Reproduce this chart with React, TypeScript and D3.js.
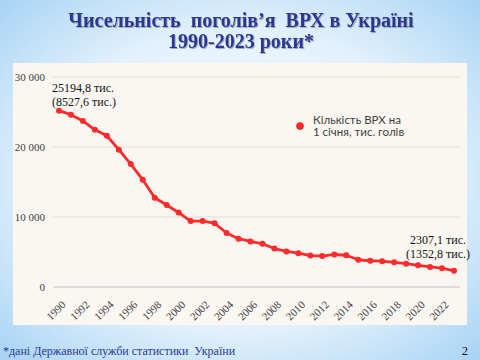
import React, { useEffect, useRef } from 'react';
import * as d3 from 'd3';

const years = d3.range(1990, 2024);
const cattle = [
  25194.8, 24623.4, 23727.7, 22457.1, 21607.4, 19624.2, 17557.3, 15313.2, 12759.4, 11721.7,
  10626.5, 9423.7, 9421.1, 9108.4, 7712.1, 6902.7, 6514.1, 6175.3, 5490.9, 5079.0,
  4826.7, 4494.4, 4425.9, 4646.0, 4534.0, 3884.0, 3750.0, 3682.0, 3530.9, 3332.9,
  3092.0, 2874.5, 2695.5, 2307.1,
];
const yTicks = [0, 10000, 20000, 30000];
const xTickYears = d3.range(1990, 2024, 2);
const titleLines = ['Чисельність  поголів’я  ВРХ в Україні', '1990-2023 роки*'];
const legendLines = ['Кількість ВРХ на', '1 січня, тис. голів'];
const firstNote = ['25194,8 тис.', '(8527,6 тис.)'];
const lastNote = ['2307,1 тис.', '(1352,8 тис.)'];
const footnote = '*дані Державної служби статистики  України';
const pageNo = '2';

const W = 480;
const H = 360;
const panel = { x: 13, y: 63, w: 454, h: 262 };
const plot = { left: 53, right: 460, top: 77, bottom: 287 };
const serif = '"Times New Roman", "Liberation Serif", serif';

const App = () => {
  const ref = useRef<SVGSVGElement>(null);

  useEffect(() => {
    const svg = d3.select(ref.current);
    svg.selectAll('*').remove();

    const defs = svg.append('defs');
    const grad = defs.append('radialGradient')
      .attr('id', 'bg')
      .attr('cx', '50%').attr('cy', '50%').attr('r', '75%');
    grad.append('stop').attr('offset', '0%').attr('stop-color', '#ffffff');
    grad.append('stop').attr('offset', '55%').attr('stop-color', '#e3f1fc');
    grad.append('stop').attr('offset', '100%').attr('stop-color', '#9fcff3');

    const shadow = defs.append('filter').attr('id', 'tshadow');
    shadow.append('feDropShadow')
      .attr('dx', 1).attr('dy', 1).attr('stdDeviation', 0.6)
      .attr('flood-color', '#7a7a9a').attr('flood-opacity', 0.6);

    svg.append('rect').attr('width', W).attr('height', H).attr('fill', 'url(#bg)');

    // title
    const title = svg.append('text')
      .attr('text-anchor', 'middle')
      .attr('font-family', serif)
      .attr('font-weight', 'bold')
      .attr('font-size', 20)
      .attr('fill', '#2b3990')
      .style('white-space', 'pre')
      .attr('filter', 'url(#tshadow)');
    titleLines.forEach((t, i) => {
      title.append('tspan').attr('x', 241).attr('y', 27 + i * 21).text(t);
    });

    svg.append('rect')
      .attr('x', panel.x).attr('y', panel.y)
      .attr('width', panel.w).attr('height', panel.h)
      .attr('fill', '#faf7f2');

    const x = d3.scaleLinear()
      .domain([1989.5, 2023.5])
      .range([53, 460]);
    const y = d3.scaleLinear()
      .domain([0, 30000])
      .range([plot.bottom, plot.top]);

    const fmt = (v: number) => d3.format(',')(v).replace(/,/g, ' ');

    const gy = svg.append('g');
    gy.selectAll('line')
      .data(yTicks)
      .enter()
      .append('line')
      .attr('x1', plot.left).attr('x2', plot.right)
      .attr('y1', d => y(d)).attr('y2', d => y(d))
      .attr('stroke', d => (d === 0 ? '#c4c4c4' : '#e0dbd4'))
      .attr('stroke-width', 1);
    gy.selectAll('text')
      .data(yTicks)
      .enter()
      .append('text')
      .attr('x', 45)
      .attr('y', d => y(d))
      .attr('dy', '0.32em')
      .attr('text-anchor', 'end')
      .attr('font-family', serif)
      .attr('font-size', 11)
      .attr('fill', '#404040')
      .text(d => fmt(d));

    svg.append('g')
      .selectAll('text')
      .data(xTickYears)
      .enter()
      .append('text')
      .attr('transform', d => `translate(${x(d) + 2},${plot.bottom + 13}) rotate(-45)`)
      .attr('text-anchor', 'end')
      .attr('dy', '0.7em')
      .attr('font-family', serif)
      .attr('font-size', 11)
      .attr('fill', '#404040')
      .text(d => d);

    const line = d3.line<number>()
      .x((d, i) => x(years[i]))
      .y(d => y(d));

    svg.append('path')
      .datum(cattle)
      .attr('d', line)
      .attr('fill', 'none')
      .attr('stroke', '#ff2a2a')
      .attr('stroke-width', 2.8)
      .attr('stroke-linejoin', 'round');

    svg.append('g')
      .selectAll('circle')
      .data(cattle)
      .enter()
      .append('circle')
      .attr('cx', (d, i) => x(years[i]))
      .attr('cy', d => y(d))
      .attr('r', 3)
      .attr('fill', '#ff2a2a');

    // legend
    svg.append('circle')
      .attr('cx', 300).attr('cy', 126).attr('r', 3.5)
      .attr('fill', '#ff2a2a')
      .attr('stroke', '#c01010').attr('stroke-width', 0.6);
    const leg = svg.append('text')
      .attr('font-family', 'Lato, "Open Sans", sans-serif')
      .attr('font-size', 11.5)
      .attr('fill', '#404040');
    legendLines.forEach((t, i) => {
      leg.append('tspan').attr('x', 313).attr('y', 124 + i * 12).text(t);
    });

    // annotations
    const n1 = svg.append('text')
      .attr('font-family', serif)
      .attr('font-size', 12)
      .attr('fill', '#111');
    firstNote.forEach((t, i) => {
      n1.append('tspan').attr('x', 52).attr('y', 92 + i * 13.5).text(t);
    });
    const n2 = svg.append('text')
      .attr('text-anchor', 'middle')
      .attr('font-family', serif)
      .attr('font-size', 12)
      .attr('fill', '#111');
    lastNote.forEach((t, i) => {
      n2.append('tspan').attr('x', 438).attr('y', 244 + i * 13.5).text(t);
    });

    // footer
    svg.append('text')
      .attr('x', 3).attr('y', 355)
      .attr('font-family', serif)
      .attr('font-size', 12)
      .attr('fill', '#2b3990')
      .style('white-space', 'pre')
      .text(footnote);
    svg.append('text')
      .attr('x', 468).attr('y', 355)
      .attr('text-anchor', 'end')
      .attr('font-family', serif)
      .attr('font-size', 12.5)
      .attr('fill', '#111')
      .text(pageNo);
  }, []);

  return (
    <svg
      ref={ref}
      width={W}
      height={H}
      style={{ position: 'absolute', left: 0, top: 0, display: 'block' }}
    />
  );
};

export default App;
